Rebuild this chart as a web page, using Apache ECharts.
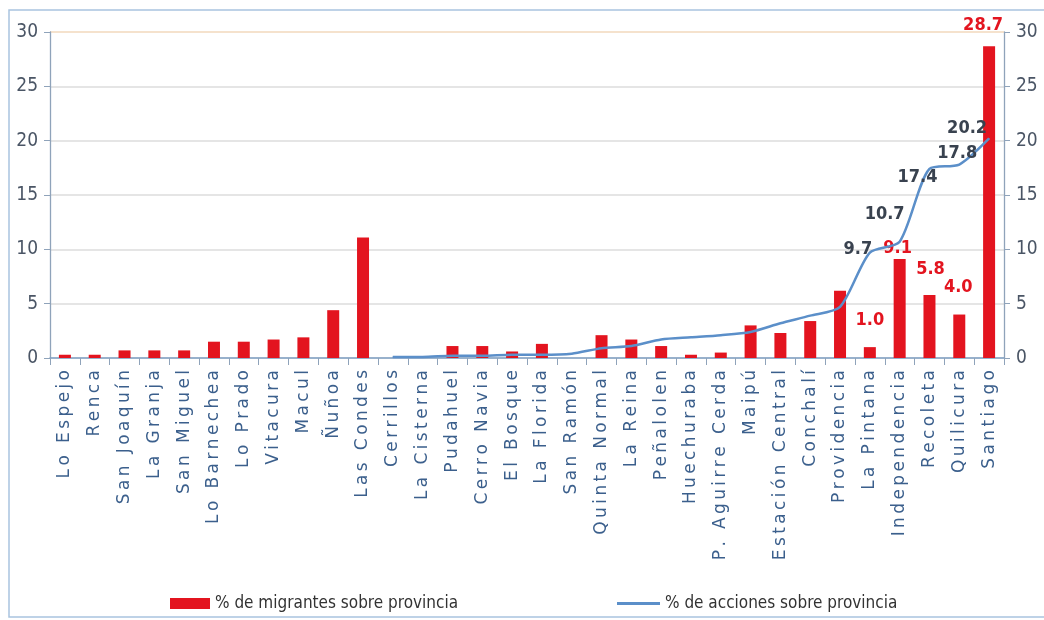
<!DOCTYPE html>
<html>
<head>
<meta charset="utf-8">
<script src="https://cdn.jsdelivr.net/npm/echarts@6/dist/echarts.min.js"></script>
<style>
html,body{margin:0;padding:0;background:#fff;}
#chart{width:1044px;height:620px;}
</style>
</head>
<body>
<div id="chart"></div>
<script>
// ---- data ----
const categories = ['Lo Espejo','Renca','San Joaquín','La Granja','San Miguel','Lo Barnechea','Lo Prado','Vitacura','Macul','Ñuñoa','Las Condes','Cerrillos','La Cisterna','Pudahuel','Cerro Navia','El Bosque','La Florida','San Ramón','Quinta Normal','La Reina','Peñalolen','Huechuraba','P. Aguirre Cerda','Maipú','Estación Central','Conchalí','Providencia','La Pintana','Independencia','Recoleta','Quilicura','Santiago'];
const migrantes = [0.3,0.3,0.7,0.7,0.7,1.5,1.5,1.7,1.9,4.4,11.1,0,0,1.1,1.1,0.6,1.3,0,2.1,1.7,1.1,0.3,0.5,3.0,2.3,3.4,6.2,1.0,9.1,5.8,4.0,28.7];
const acciones = [null,null,null,null,null,null,null,null,null,null,null,0.1,0.1,0.2,0.2,0.3,0.3,0.4,0.9,1.1,1.7,1.9,2.1,2.4,3.2,3.9,4.7,9.7,10.7,17.4,17.8,20.2];
const seriesNames = ['% de migrantes sobre provincia','% de acciones sobre provincia'];
const yTicks = [0,5,10,15,20,25,30];
const labeledMigrantes = ['La Pintana','Independencia','Recoleta','Quilicura','Santiago'];
const labeledAcciones = ['La Pintana','Independencia','Recoleta','Quilicura','Santiago'];

// ---- styles ----
const barLabelOffset = {'La Pintana':[0,-13],'Independencia':[-2,3],'Recoleta':[1,-12],'Quilicura':[-1,-13],'Santiago':[-6,-7]};
const lineLabelOffset = {'La Pintana':[-12,-3],'Independencia':[-15,-27],'Recoleta':[-12,8],'Quilicura':[-2,-11],'Santiago':[-22,-10]};
const NARROW = "'Liberation Sans Narrow','DejaVu Sans Condensed',sans-serif";

const barData = migrantes.map((v,i)=>{
  const c = categories[i];
  if (labeledMigrantes.includes(c)) {
    return {value:v,label:{show:true,position:'top',offset:barLabelOffset[c],color:'#e3141f',fontWeight:'bold',fontSize:18,fontFamily:NARROW,formatter:p=>p.value.toFixed(1)}};
  }
  return v;
});
const lineData = acciones.map((v,i)=>{
  const c = categories[i];
  if (labeledAcciones.includes(c)) {
    return {value:v,label:{show:true,position:'inside',offset:lineLabelOffset[c],color:'#39424f',fontWeight:'bold',fontSize:18,fontFamily:NARROW,formatter:p=>p.value.toFixed(1)}};
  }
  return v;
});

const chart = echarts.init(document.getElementById('chart'));
const yAxisCommon = {
  type:'value', min:0, max:30, interval:5,
  axisLine:{show:true,lineStyle:{color:'#8fa3ba',width:1.3}},
  axisTick:{show:true,length:6,lineStyle:{color:'#8fa3ba'}},
  axisLabel:{color:'#4a5565',fontSize:19,fontFamily:NARROW,margin:12}
};
chart.setOption({
  animation:false,
  backgroundColor:'#ffffff',
  graphic:[{type:'rect',shape:{x:9,y:10,width:1045,height:607},style:{fill:'none',stroke:'#a9c4df',lineWidth:1.5},silent:true}],
  grid:{left:50,right:40,top:32,bottom:262},
  legend:[
    {data:[{name:seriesNames[0],icon:'rect'}],left:165,top:590,itemWidth:40,itemHeight:11,itemGap:6,
     textStyle:{color:'#333',fontSize:17,fontFamily:NARROW}},
    {data:[{name:seriesNames[1],icon:'rect'}],left:612,top:590,itemWidth:43,itemHeight:3,itemGap:6,
     textStyle:{color:'#333',fontSize:17,fontFamily:NARROW}}
  ],
  xAxis:{
    type:'category', data:categories,
    axisLine:{lineStyle:{color:'#7fa0c4',width:1.5}},
    axisTick:{show:true,length:7,lineStyle:{color:'#8fa3ba'}},
    axisLabel:{rotate:90,interval:0,margin:12,color:'#3b5f8c',fontSize:17,fontFamily:"'DejaVu Sans',sans-serif",
      formatter:s=>s.split('').join('\u2009')}
  },
  yAxis:[
    Object.assign({},yAxisCommon,{position:'left',
      splitLine:{show:true,lineStyle:{color:['#dcdcdc','#dcdcdc','#dcdcdc','#dcdcdc','#dcdcdc','#dcdcdc','#f2d8bd'],width:1.5}}}),
    Object.assign({},yAxisCommon,{position:'right',splitLine:{show:false}})
  ],
  series:[
    {name:seriesNames[0],type:'bar',data:barData,barWidth:12,itemStyle:{color:'#e3141f'},yAxisIndex:0},
    {name:seriesNames[1],type:'line',data:lineData,yAxisIndex:1,symbol:'circle',symbolSize:1,showSymbol:true,
     itemStyle:{color:'#5b8fc9'},lineStyle:{color:'#5b8fc9',width:2.5},smooth:0.25,connectNulls:false}
  ]
});
</script>
</body>
</html>
